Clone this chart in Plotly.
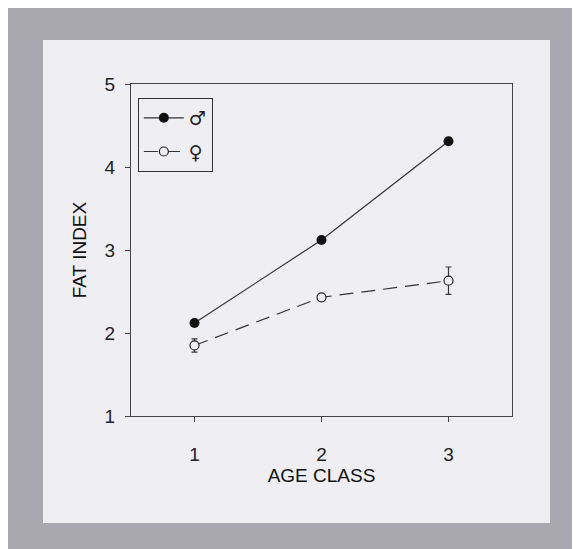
"""
Fat index por classe de idade, machos vs fêmeas
"""
import plotly.graph_objects as go

# dados
classes = [1, 2, 3]
fat_machos = [2.12, 3.12, 4.31]
fat_femeas = [1.85, 2.43, 2.63]
erro_femeas = [0.08, 0.03, 0.165]
ticks_y = [1, 2, 3, 4, 5]

FONTE = "Arial, Liberation Sans, DejaVu Sans"
COR_LINHA = "#333333"
COR_FUNDO = "#efeef3"
COR_BORDA = "#a9a8b0"

fig = go.Figure()

fig.add_trace(go.Scatter(
    x=classes, y=fat_machos, name="♂", legendgroup="m",
    mode="lines+markers",
    line=dict(color=COR_LINHA, width=1.2),
    marker=dict(color="#111111", size=10, symbol="circle"),
))

fig.add_trace(go.Scatter(
    x=classes, y=fat_femeas, name="♀", legendgroup="f",
    mode="lines+markers",
    line=dict(color=COR_LINHA, width=1.2, dash="14px,8px"),
    marker=dict(color=COR_FUNDO, size=9, symbol="circle",
                line=dict(color="#222222", width=1.2)),
    error_y=dict(type="data", array=erro_femeas, visible=True,
                 color=COR_LINHA, thickness=1.2, width=3),
))

eixo = dict(
    showline=True, linecolor="#444444", linewidth=1, mirror=True,
    ticks="outside", ticklen=5, tickcolor="#444444",
    showgrid=False, zeroline=False,
    tickfont=dict(family=FONTE, size=19, color="#222222"),
    title_font=dict(family=FONTE, size=19, color="#111111"),
)

fig.update_xaxes(
    eixo, range=[0.5, 3.5], tickvals=classes, ticklabelstandoff=16,
    title_text="AGE CLASS", title_standoff=4,
)
fig.update_yaxes(
    eixo, range=[1, 5], tickvals=ticks_y, ticklabelstandoff=6,
    title_text="FAT INDEX", title_standoff=12,
)

# a página desloca a figura 8px (margem do body), por isso as margens compensam
fig.update_layout(
    width=580, height=549,
    margin=dict(l=123, r=76, t=76, b=141),
    paper_bgcolor=COR_BORDA,
    plot_bgcolor=COR_FUNDO,
    showlegend=True,
    legend=dict(
        x=0.018, y=0.958, xanchor="left", yanchor="top",
        bgcolor="rgba(0,0,0,0)", bordercolor="#333333", borderwidth=1,
        font=dict(family="DejaVu Sans", size=19, color="#222222"),
        tracegroupgap=6, itemwidth=40,
    ),
    shapes=[dict(
        type="rect", xref="paper", yref="paper", layer="below",
        x0=-(131 - 43) / 381, x1=1 + (550 - 512) / 381,
        y0=-(523 - 416) / 332, y1=1 + (84 - 40) / 332,
        fillcolor=COR_FUNDO, line=dict(width=0),
    )],
)

fig.write_html("out.html")
